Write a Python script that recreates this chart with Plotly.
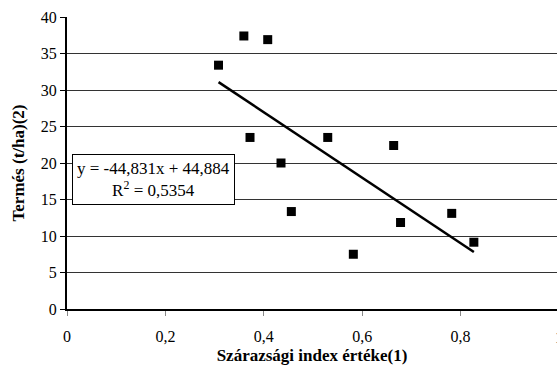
import plotly.graph_objects as go

# Data
index_values = [0.308, 0.3595, 0.408, 0.372, 0.435, 0.530, 0.664, 0.456, 0.582, 0.678, 0.782, 0.827]
yield_values = [33.4, 37.4, 36.9, 23.5, 20.0, 23.5, 22.4, 13.35, 7.5, 11.85, 13.1, 9.15]

slope = -44.831
intercept = 44.884
r_squared_text = "0,5354"
equation_text = "y = -44,831x + 44,884"

x_ticks = [0, 0.2, 0.4, 0.6, 0.8]
x_tick_labels = ["0", "0,2", "0,4", "0,6", "0,8"]
last_x_label = "1"
y_ticks = [0, 5, 10, 15, 20, 25, 30, 35, 40]

x_title = "Szárazsági index értéke(1)"
y_title = "Termés (t/ha)(2)"

FONT = "Liberation Serif"

x_min, x_max = min(index_values), max(index_values)
trend_x = [x_min, x_max]
trend_y = [slope * v + intercept for v in trend_x]

fig = go.Figure()
fig.add_trace(go.Scatter(
    x=trend_x, y=trend_y, mode="lines",
    line=dict(color="black", width=2.5), showlegend=False, hoverinfo="skip"))
fig.add_trace(go.Scatter(
    x=index_values, y=yield_values, mode="markers",
    marker=dict(symbol="square", size=9, color="black"),
    showlegend=False))

fig.update_layout(
    width=557, height=367,
    margin=dict(l=67, r=0, t=17, b=58),
    paper_bgcolor="white", plot_bgcolor="white",
    font=dict(family=FONT, size=16, color="black"),
    xaxis=dict(
        range=[0, 0.996], tickvals=x_ticks, ticktext=x_tick_labels,
        showgrid=False, zeroline=False,
        showline=True, linecolor="black", linewidth=2,
        ticks="outside", ticklen=5, tickcolor="#888888", tickwidth=1,
        ticklabelstandoff=7,
        tickfont=dict(family=FONT, size=16, color="black"),
        title=dict(text="<b>" + x_title + "</b>", font=dict(family=FONT, size=17, color="black"), standoff=5),
    ),
    yaxis=dict(
        range=[0, 40], tickvals=y_ticks,
        showgrid=True, gridcolor="#333333", gridwidth=1, zeroline=False,
        showline=True, linecolor="black", linewidth=2,
        ticks="outside", ticklen=5, tickcolor="black", tickwidth=1,
        tickfont=dict(family=FONT, size=16, color="black"),
        title=dict(text="<b>" + y_title + "</b>", font=dict(family=FONT, size=17, color="black"), standoff=12),
    ),
    annotations=[
        dict(x=0.176, y=17.8, xref="x", yref="y",
             text=equation_text + "<br>R<sup>2</sup> = " + r_squared_text,
             showarrow=False, align="center",
             font=dict(family=FONT, size=17, color="black"),
             bgcolor="white", bordercolor="black", borderwidth=1, borderpad=4),
        dict(x=1.004, y=-0.06, xref="paper", yref="paper",
             xanchor="center", yanchor="top",
             text=last_x_label, showarrow=False,
             font=dict(family=FONT, size=16, color="black")),
    ],
)

fig.write_html("out.html")
